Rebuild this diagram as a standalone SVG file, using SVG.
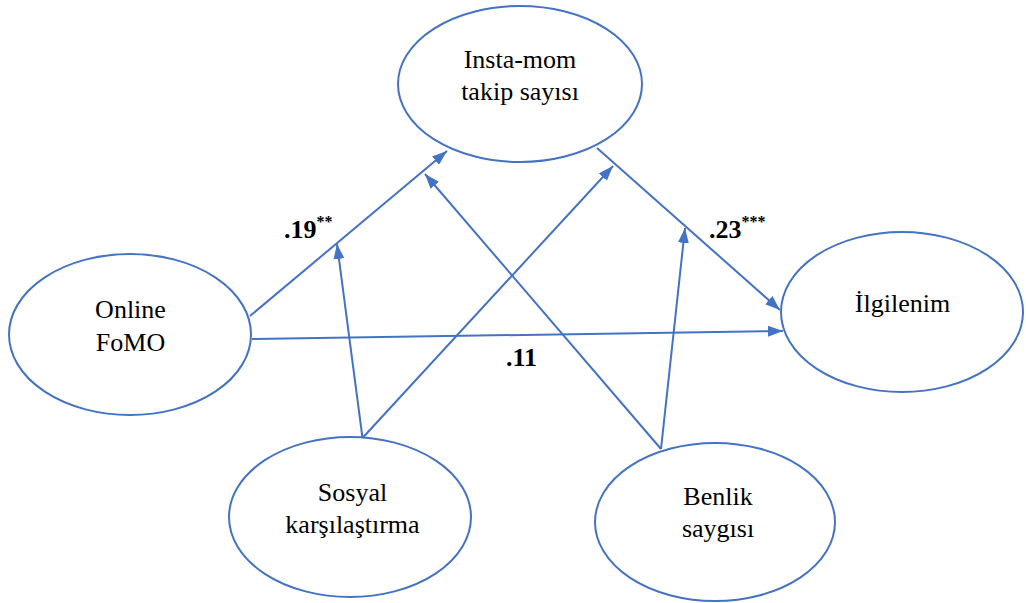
<svg xmlns="http://www.w3.org/2000/svg" width="1026" height="603" viewBox="0 0 1026 603">
<style>
.node ellipse{fill:#fff;stroke:#4472C4;stroke-width:2}
.node text{font-size:26px;fill:#000;text-anchor:middle}
.conn line{stroke:#4472C4;stroke-width:2;marker-end:url(#ah)}
.lbl{font-size:26px;font-weight:bold;fill:#000}
.sup{font-size:16px}
</style>
<defs>
<marker id="ah" markerUnits="userSpaceOnUse" markerWidth="15" markerHeight="11" refX="15" refY="5.5" orient="auto">
<path d="M0,0 L15,5.5 L0,11 z" fill="#4472C4"/>
</marker>
</defs>
<rect width="1026" height="603" fill="#fff"/>
<g font-family="Liberation Serif, serif">
<g id="n-insta" class="node"><ellipse cx="520" cy="84" rx="122" ry="78"/><text x="520" y="68">Insta-mom</text><text x="520" y="100">takip sayısı</text></g>
<g id="n-fomo" class="node"><ellipse cx="130" cy="334.5" rx="121" ry="80.5"/><text x="130.5" y="318">Online</text><text x="130.5" y="351">FoMO</text></g>
<g id="n-ilgi" class="node"><ellipse cx="902" cy="312" rx="121" ry="80"/><text x="902.5" y="312">İlgilenim</text></g>
<g id="n-sosyal" class="node"><ellipse cx="350" cy="517" rx="121" ry="80"/><text x="352.5" y="501">Sosyal</text><text x="352.5" y="533">karşılaştırma</text></g>
<g id="n-benlik" class="node"><ellipse cx="715" cy="522" rx="120" ry="79"/><text x="718" y="505">Benlik</text><text x="718" y="537">saygısı</text></g>
<g id="connectors" class="conn">
<line x1="250" y1="316" x2="447" y2="151"/>
<line x1="252" y1="339" x2="783" y2="331"/>
<line x1="597" y1="148" x2="780" y2="310"/>
<line x1="362.5" y1="438" x2="337" y2="244"/>
<line x1="362.5" y1="438" x2="613" y2="166"/>
<line x1="661" y1="449" x2="425" y2="174"/>
<line x1="661" y1="449" x2="685" y2="228"/>
</g>
<g id="labels">
<text class="lbl" x="284" y="238">.19<tspan class="sup" dy="-11">**</tspan></text>
<text class="lbl" x="709" y="238">.23<tspan class="sup" dy="-11">***</tspan></text>
<text class="lbl" x="506" y="366">.11</text>
</g>
</g>
</svg>
